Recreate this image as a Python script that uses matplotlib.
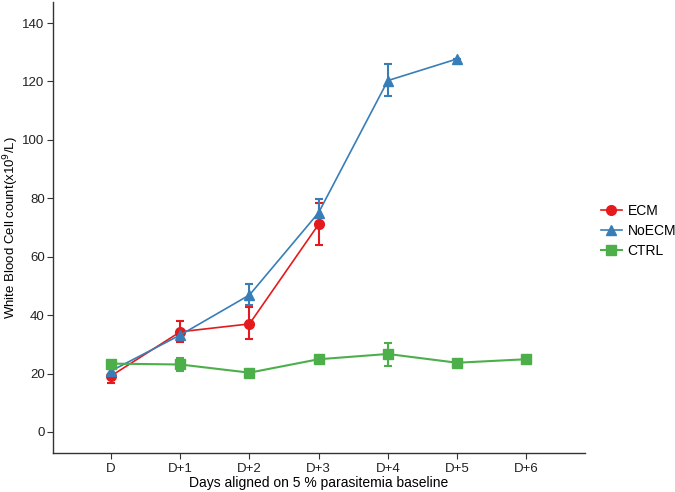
import matplotlib
matplotlib.use("Agg")
import matplotlib.pyplot as plt
import numpy as np

plt.rcParams['font.family'] = ['Liberation Sans', 'DejaVu Sans']

days = ['D', 'D+1', 'D+2', 'D+3', 'D+4', 'D+5', 'D+6']

ecm_mean = [19.2, 34.3, 37.0, 71.1]
ecm_lo = [16.8, 30.8, 31.7, 64.0]
ecm_hi = [21.6, 38.1, 42.9, 78.5]

noecm_mean = [20.9, 33.2, 46.9, 75.1, 120.3, 127.7]
noecm_lo = [19.8, 31.5, 43.5, 71.0, 115.1, 127.7]
noecm_hi = [22.0, 35.0, 50.6, 79.6, 125.9, 127.7]

ctrl_mean = [23.4, 23.1, 20.3, 24.9, 26.7, 23.7, 24.9]
ctrl_lo = [23.4, 20.9, 20.3, 24.9, 22.6, 23.7, 24.9]
ctrl_hi = [23.4, 25.2, 20.3, 24.9, 30.4, 23.7, 24.9]

series = [
    ('ECM', ecm_mean, ecm_lo, ecm_hi, '#E41A1C', 'o', 1.2),
    ('NoECM', noecm_mean, noecm_lo, noecm_hi, '#377EB8', '^', 1.2),
    ('CTRL', ctrl_mean, ctrl_lo, ctrl_hi, '#4DAF4A', 's', 1.5),
]

fig = plt.figure(figsize=(6.75, 4.92), dpi=100)
ax = fig.add_axes([53/675, 1-453/492, (585-53)/675, (453-2)/492])

handles = []
for name, m, lo, hi, col, mk, lw in series:
    x = np.arange(len(m))
    m = np.array(m)
    err = [m - np.array(lo), np.array(hi) - m]
    ax.errorbar(x, m, yerr=err, fmt='none', ecolor=col, elinewidth=1.5,
                capsize=3, capthick=1.5, zorder=2)
    h, = ax.plot(x, m, color=col, lw=lw, marker=mk, markersize=7,
                 markeredgecolor=col, label=name, zorder=3)
    handles.append(h)

ax.set_xticks(range(len(days)))
ax.set_xticklabels(days)
ax.set_xlim(-0.84, 6.85)
ax.set_ylim(-7.2, 147.2)
ax.set_yticks([0, 20, 40, 60, 80, 100, 120, 140])

for s in ['top', 'right']:
    ax.spines[s].set_visible(False)
for s in ['left', 'bottom']:
    ax.spines[s].set_color('#333333')
    ax.spines[s].set_linewidth(1.0)
ax.tick_params(colors='#333333', labelcolor='#222222', labelsize=9.5, length=4, pad=3)
ax.tick_params(axis='y', pad=2)

ax.set_xlabel('Days aligned on 5 % parasitemia baseline', fontsize=10, labelpad=1)
ax.set_ylabel('White Blood Cell count(x10$^9$/L)', fontsize=9.5)
ax.yaxis.set_label_coords(-0.06, 0.5)

leg = fig.legend(handles=handles, loc='center left',
                 bbox_to_anchor=(601/675, 1-231/492), frameon=False,
                 fontsize=10, handlelength=1.5, handletextpad=0.4,
                 labelspacing=0.45, borderaxespad=0, borderpad=0)

fig.savefig('out.png', dpi=100, facecolor='white')
